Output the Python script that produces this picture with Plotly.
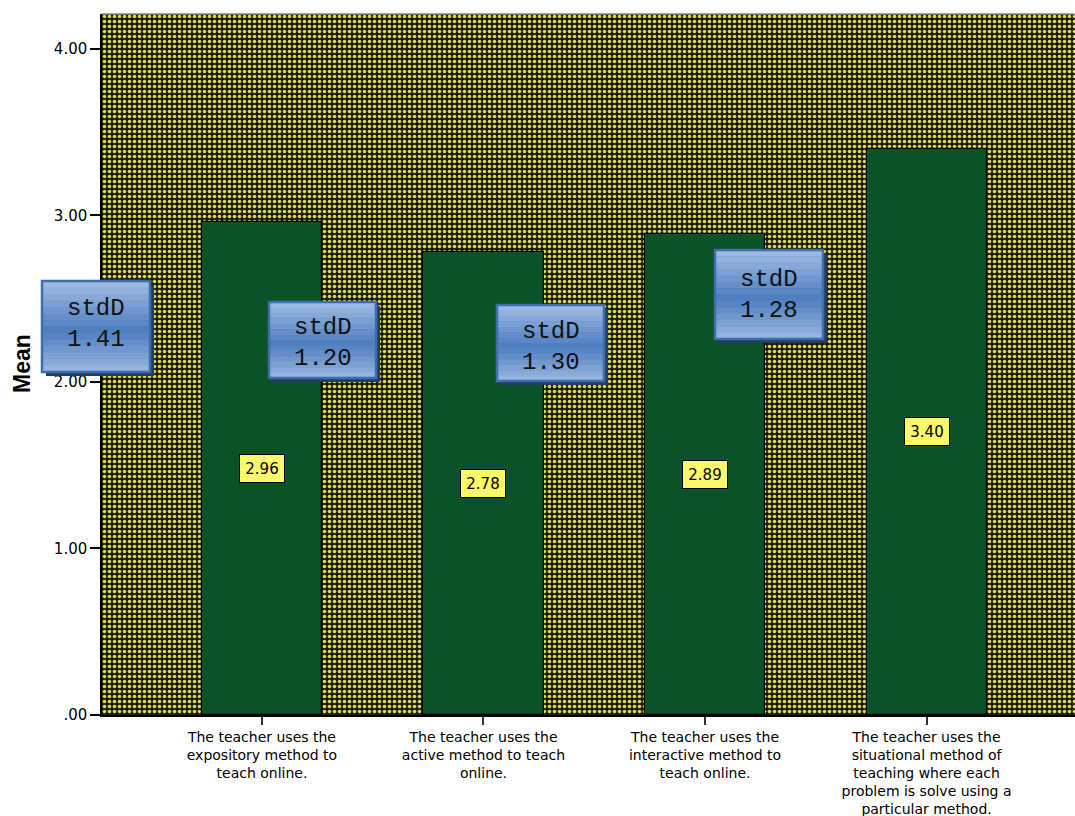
import plotly.graph_objects as go

categories = [
    "The teacher uses the<br>expository method to<br>teach online.",
    "The teacher uses the<br>active method to teach<br>online.",
    "The teacher uses the<br>interactive method to<br>teach online.",
    "The teacher uses the<br>situational method of<br>teaching where each<br>problem is solve using a<br>particular method.",
]
means = [2.96, 2.78, 2.89, 3.40]
mean_labels = ["2.96", "2.78", "2.89", "3.40"]
std_values = [1.41, 1.20, 1.30, 1.28]
y_ticks = [0, 1, 2, 3, 4]
y_tick_labels = [".00", "1.00", "2.00", "3.00", "4.00"]

W, H = 1075, 816
ML, MT, MB, MR = 102, 14, 101, 0
PW = W - ML - MR
PH = H - MT - MB
X_RANGE = [-0.722, 3.67]
Y_RANGE = [0, 4.21]


def px(xp):
    return (xp - ML) / PW


def py(yp):
    return (H - MB - yp) / PH


fig = go.Figure()

# patterned plot background
fig.add_trace(go.Bar(
    x=[(X_RANGE[0] + X_RANGE[1]) / 2], y=[Y_RANGE[1]], width=[X_RANGE[1] - X_RANGE[0]],
    marker=dict(color="#1e1e0c", line=dict(width=0),
                pattern=dict(shape=".", fgcolor="#d8d65a", bgcolor="#1c1c0a",
                             size=5, solidity=0.42, fillmode="replace")),
    hoverinfo="skip", showlegend=False,
))

fig.add_trace(go.Bar(
    x=list(range(len(categories))), y=means, width=0.542,
    marker=dict(color="#0b5229", line=dict(color="#000000", width=1.2)),
    showlegend=False,
))

annotations = []
# value labels at half height
for i, (m, lab) in enumerate(zip(means, mean_labels)):
    annotations.append(dict(
        x=i, y=m / 2, xref="x", yref="y", text=lab, showarrow=False,
        font=dict(family="DejaVu Sans", size=15, color="#000000"),
        bgcolor="#fbf86a", bordercolor="#000000", borderwidth=1,
        width=42, height=25,
    ))

# stdD callout boxes (pixel boxes: left, top, right, bottom)
boxes = [(42, 281, 150, 372), (269, 302, 376, 378), (497, 305, 604, 381), (715, 250, 823, 339)]
text_centers = [324, 343, 347, 295]
shapes = []


def lerp(c1, c2, t):
    return "#%02x%02x%02x" % tuple(int(round(a + (b - a) * t)) for a, b in zip(c1, c2))


top_c = (0xa3, 0xbd, 0xe3)
mid_c = (0x4c, 0x7d, 0xc0)
bot_c = (0x9c, 0xb8, 0xe0)
NB = 14
for (l, t, r, b), sd, tc in zip(boxes, std_values, text_centers):
    # shadow
    shapes.append(dict(type="rect", xref="paper", yref="paper",
                       x0=px(l + 4), x1=px(r + 4), y0=py(b + 4), y1=py(t + 4),
                       fillcolor="#263d60", line=dict(width=0), layer="above"))
    hgt = b - t
    for k in range(NB):
        y0p = t + hgt * k / NB
        y1p = t + hgt * (k + 1) / NB
        f = (k + 0.5) / NB
        if f < 0.55:
            col = lerp(top_c, mid_c, f / 0.55)
        else:
            col = lerp(mid_c, bot_c, (f - 0.55) / 0.45)
        shapes.append(dict(type="rect", xref="paper", yref="paper",
                           x0=px(l), x1=px(r), y0=py(y1p + 0.5), y1=py(y0p),
                           fillcolor=col, line=dict(width=0), layer="above"))
    shapes.append(dict(type="rect", xref="paper", yref="paper",
                       x0=px(l), x1=px(r), y0=py(b), y1=py(t),
                       fillcolor="rgba(0,0,0,0)", line=dict(color="#3e6db0", width=2.5),
                       layer="above"))
    annotations.append(dict(
        x=px((l + r) / 2), y=py(tc), xref="paper", yref="paper",
        text="stdD<br>%.2f" % sd, showarrow=False, xanchor="center", yanchor="middle",
        font=dict(family="Liberation Mono", size=24, color="#111111"),
    ))

# y axis title
annotations.append(dict(
    x=px(22), y=py(364), xref="paper", yref="paper", text="<b>Mean</b>",
    showarrow=False, textangle=-90, xanchor="center", yanchor="middle",
    font=dict(family="Liberation Sans", size=23, color="#000000"),
))

# top frame line
shapes.append(dict(type="line", xref="paper", yref="paper", x0=0, x1=1, y0=1, y1=1,
                   line=dict(color="#8a8a8a", width=1.5), layer="above"))

fig.update_layout(
    width=W, height=H,
    margin=dict(l=ML, r=MR, t=MT, b=MB, pad=0),
    paper_bgcolor="#ffffff", plot_bgcolor="#1e1e0c",
    barmode="overlay", bargap=0,
    annotations=annotations, shapes=shapes,
    font=dict(family="DejaVu Sans", color="#000000"),
    xaxis=dict(
        range=X_RANGE, tickmode="array", tickvals=list(range(len(categories))),
        ticktext=categories, ticks="outside", ticklen=8, tickwidth=1.5, tickcolor="#333333",
        showgrid=False, zeroline=False, showline=True, linecolor="#000000", linewidth=1.5,
        tickfont=dict(family="DejaVu Sans", size=14, color="#000000"), tickangle=0,
    ),
    yaxis=dict(
        range=Y_RANGE, tickmode="array", tickvals=y_ticks, ticktext=y_tick_labels,
        ticks="outside", ticklen=10, tickwidth=1.5, tickcolor="#000000",
        showgrid=False, zeroline=False, showline=True, linecolor="#000000", linewidth=1.5,
        tickfont=dict(family="DejaVu Sans", size=15, color="#000000"),
    ),
)

fig.write_html("out.html")
